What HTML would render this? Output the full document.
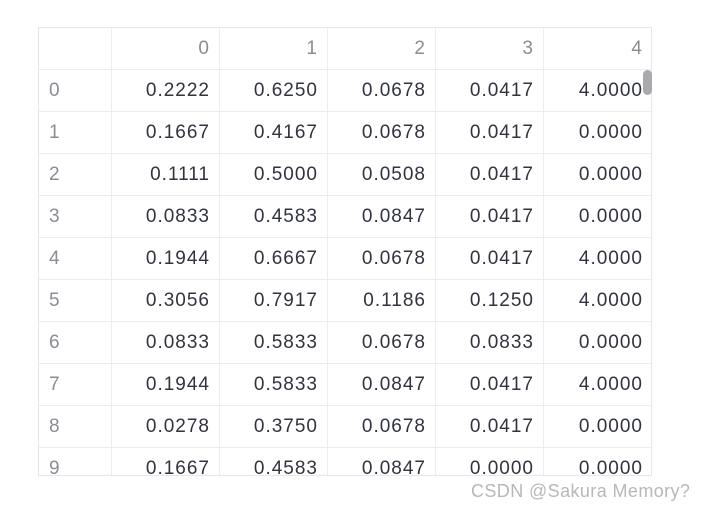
<!DOCTYPE html>
<html><head><meta charset="utf-8">
<style>
body{margin:0;width:704px;height:511px;background:#fff;position:relative;overflow:hidden;font-family:"Liberation Sans",sans-serif;}
#tbl{position:absolute;left:38px;top:27px;width:614px;height:449px;overflow:hidden;border:1px solid #e6e6ea;box-sizing:border-box;}
.c{position:absolute;box-sizing:border-box;border-right:1px solid #ececef;border-bottom:1px solid #ececef;font-size:19px;line-height:42px;padding:0 9px 0 10px;letter-spacing:1px;text-align:right;color:#31333f;white-space:nowrap;}
.h{color:#8a8c96;}
.i{text-align:left;color:#8a8c96;}
#scroll{position:absolute;left:643px;top:70px;width:9px;height:25px;border-radius:5px;background:#a9a9ae;}
#wm{position:absolute;left:471px;top:481px;font-size:18px;color:#b8b8bc;letter-spacing:0.4px;}
</style></head><body>
<div id="tbl"></div>
<div id="scroll"></div>
<div id="wm">CSDN @Sakura Memory?</div>
<script>
const columns = ["0","1","2","3","4"];
const rowIndex = ["0","1","2","3","4","5","6","7","8","9"];
const col0 = ["0.2222","0.1667","0.1111","0.0833","0.1944","0.3056","0.0833","0.1944","0.0278","0.1667"];
const col1 = ["0.6250","0.4167","0.5000","0.4583","0.6667","0.7917","0.5833","0.5833","0.3750","0.4583"];
const col2 = ["0.0678","0.0678","0.0508","0.0847","0.0678","0.1186","0.0678","0.0847","0.0678","0.0847"];
const col3 = ["0.0417","0.0417","0.0417","0.0417","0.0417","0.1250","0.0833","0.0417","0.0417","0.0000"];
const col4 = ["4.0000","0.0000","0.0000","0.0000","4.0000","4.0000","0.0000","4.0000","0.0000","0.0000"];
const cols=[col0,col1,col2,col3,col4];
const tbl=document.getElementById('tbl');
const lefts=[0,73,181,289,397,505], widths=[73,108,108,108,108,109], rowH=42;
function cell(x,w,y,txt,cls,name){
  const d=document.createElement('div');
  d.className='c '+cls;
  d.style.left=x+'px';d.style.top=y+'px';d.style.width=w+'px';d.style.height=rowH+'px';
  d.textContent=txt;
  
  
  tbl.appendChild(d);
}
cell(lefts[0],widths[0],0,'','h','corner-header');
columns.forEach((c,j)=>cell(lefts[j+1],widths[j+1],0,c,'h','column-header-'+c));
rowIndex.forEach((r,i)=>{
  const y=(i+1)*rowH;
  cell(lefts[0],widths[0],y,r,'i','row-index-'+r);
  cols.forEach((col,j)=>cell(lefts[j+1],widths[j+1],y,col[i],'','cell-r'+r+'-c'+j));
});
</script>
</body></html>
